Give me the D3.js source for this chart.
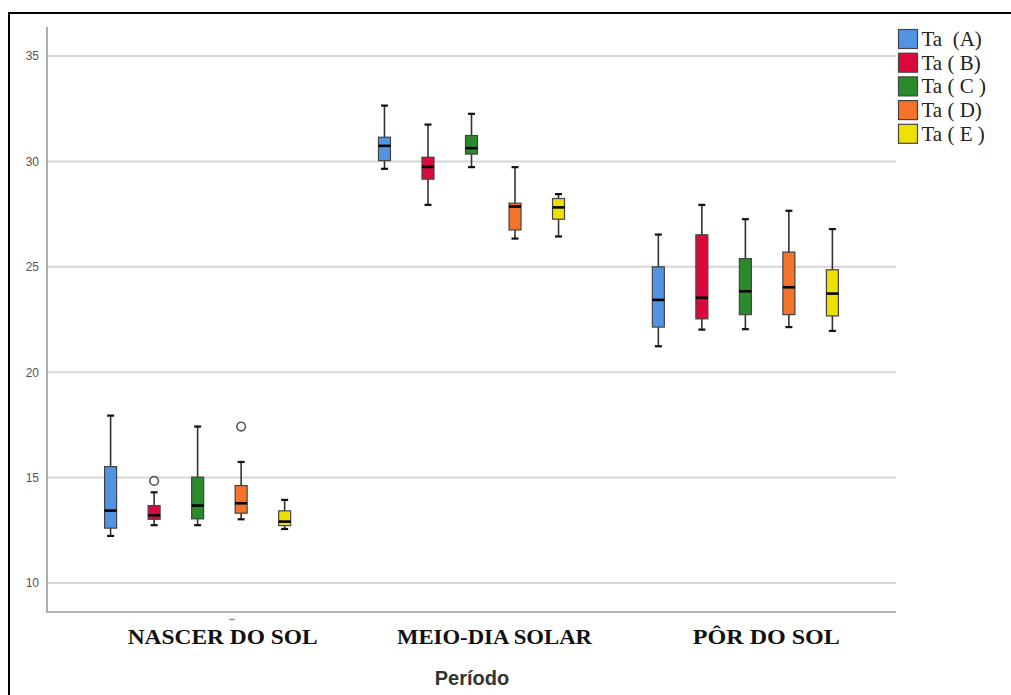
<!DOCTYPE html>
<html>
<head>
<meta charset="utf-8">
<script src="https://cdn.jsdelivr.net/npm/d3@7"></script>
<style>
  html, body { margin: 0; padding: 0; background: #fff; }
  svg { display: block; }
</style>
</head>
<body>
<svg id="chart" width="1011" height="695"></svg>
<script>
// Air temperature (Ta) by period of the day, five sampling points A–E
const periods = ["NASCER DO SOL", "MEIO-DIA SOLAR", "PÔR DO SOL"];
const series = ["Ta  (A)", "Ta ( B)", "Ta ( C )", "Ta ( D)", "Ta ( E )"];
const seriesColors = ["#5094e2", "#dc0a3c", "#2b8a2b", "#f5722a", "#eee000"];
const yTicks = [10, 15, 20, 25, 30, 35];

// five-number summaries per period: [lowWhisker, q1, median, q3, highWhisker]
const nascerStats = [
  [12.23, 12.60, 13.43, 15.52, 17.94],
  [12.74, 13.02, 13.21, 13.67, 14.30],
  [12.74, 13.04, 13.67, 15.02, 17.42],
  [13.02, 13.31, 13.78, 14.62, 15.74],
  [12.56, 12.72, 12.91, 13.42, 13.94]
];
const meioDiaStats = [
  [29.65, 30.04, 30.74, 31.15, 32.65],
  [27.94, 29.16, 29.74, 30.20, 31.75],
  [29.73, 30.35, 30.63, 31.23, 32.26],
  [26.34, 26.75, 27.86, 28.02, 29.73],
  [26.44, 27.26, 27.82, 28.24, 28.45]
];
const porStats = [
  [21.23, 22.14, 23.43, 25.00, 26.53],
  [22.02, 22.53, 23.53, 26.52, 27.94],
  [22.04, 22.73, 23.84, 25.39, 27.26],
  [22.14, 22.73, 24.03, 25.70, 27.66],
  [21.96, 22.67, 23.73, 24.86, 26.79]
];
// outliers: [period index, series index, value]
const outliers = [
  [0, 1, 14.84],
  [0, 3, 17.42]
];

const statsByPeriod = [nascerStats, meioDiaStats, porStats];

const svg = d3.select("#chart");

// outer frame
svg.append("path")
  .attr("d", "M9,695 L9,13 L1011,13")
  .attr("fill", "none").attr("stroke", "#000").attr("stroke-width", 2);

const plot = { left: 47, right: 896, top: 27, bottom: 612 };

const y = d3.scaleLinear().domain([8.62, 36.38]).range([plot.bottom, plot.top]);
const x = d3.scaleBand().domain(periods).range([plot.left, plot.right])
  .paddingInner(0).paddingOuter(0.05);
const xs = d3.scalePoint().domain(series).range([0, x.bandwidth()]).padding(1.147);

// grid lines
svg.append("g").selectAll("line").data(yTicks).join("line")
  .attr("x1", plot.left).attr("x2", plot.right)
  .attr("y1", d => y(d)).attr("y2", d => y(d))
  .attr("stroke", "#d6d6d6").attr("stroke-width", 2);

// y axis
const yAxis = svg.append("g").attr("transform", `translate(${plot.left},0)`)
  .call(d3.axisLeft(y).tickValues(yTicks).tickSize(0).tickPadding(8));
yAxis.select(".domain").remove();
yAxis.selectAll("text")
  .attr("font-family", "Liberation Sans, Arial, sans-serif")
  .attr("font-size", 12).attr("fill", "#555");

// axis lines
svg.append("path")
  .attr("d", `M${plot.left},${plot.top} L${plot.left},${plot.bottom} L${plot.right},${plot.bottom}`)
  .attr("fill", "none").attr("stroke", "#9a9a9a").attr("stroke-width", 1.6);

// x axis labels (set in a bold serif face, stretched to the period width)
const labelShift = [25, 23, 21];
const labelWidth = [190, 195, 147];
const xAxis = svg.append("g").attr("transform", `translate(0,${plot.bottom})`)
  .call(d3.axisBottom(x).tickSize(0).tickPadding(17));
xAxis.select(".domain").remove();
xAxis.selectAll("text")
  .attr("font-family", "Liberation Serif, Times New Roman, serif")
  .attr("font-weight", "bold").attr("font-size", 21).attr("fill", "#111")
  .attr("dx", (d, i) => labelShift[i])
  .attr("textLength", (d, i) => labelWidth[i])
  .attr("lengthAdjust", "spacingAndGlyphs");

// small mark under the axis
svg.append("line")
  .attr("x1", 229).attr("x2", 235).attr("y1", 619.5).attr("y2", 619.5)
  .attr("stroke", "#888").attr("stroke-width", 1.2);

// axis title
svg.append("text")
  .attr("x", 472).attr("y", 685).attr("text-anchor", "middle")
  .attr("font-family", "Liberation Sans, Arial, sans-serif")
  .attr("font-size", 20).attr("font-weight", "bold").attr("fill", "#333")
  .text("Período");

// boxes
const boxW = 12, capW = 7;
const boxData = [];
periods.forEach((p, pi) => {
  series.forEach((s, si) => {
    const [lo, q1, med, q3, hi] = statsByPeriod[pi][si];
    boxData.push({ p, s, si, lo, q1, med, q3, hi, cx: x(p) + xs(s) });
  });
});

const boxes = svg.append("g").selectAll("g").data(boxData).join("g");

boxes.append("line")
  .attr("x1", d => d.cx).attr("x2", d => d.cx)
  .attr("y1", d => y(d.hi)).attr("y2", d => y(d.lo))
  .attr("stroke", "#333").attr("stroke-width", 1.6);
boxes.append("line")
  .attr("x1", d => d.cx - capW / 2).attr("x2", d => d.cx + capW / 2)
  .attr("y1", d => y(d.hi)).attr("y2", d => y(d.hi))
  .attr("stroke", "#111").attr("stroke-width", 2.2);
boxes.append("line")
  .attr("x1", d => d.cx - capW / 2).attr("x2", d => d.cx + capW / 2)
  .attr("y1", d => y(d.lo)).attr("y2", d => y(d.lo))
  .attr("stroke", "#111").attr("stroke-width", 2.2);
boxes.append("rect")
  .attr("x", d => d.cx - boxW / 2).attr("width", boxW)
  .attr("y", d => y(d.q3)).attr("height", d => y(d.q1) - y(d.q3))
  .attr("fill", d => seriesColors[d.si])
  .attr("stroke", "#444").attr("stroke-width", 1.2);
boxes.append("line")
  .attr("x1", d => d.cx - boxW / 2).attr("x2", d => d.cx + boxW / 2)
  .attr("y1", d => y(d.med)).attr("y2", d => y(d.med))
  .attr("stroke", "#000").attr("stroke-width", 2.6);

// outliers
svg.append("g").selectAll("circle").data(outliers).join("circle")
  .attr("cx", d => x(periods[d[0]]) + xs(series[d[1]]))
  .attr("cy", d => y(d[2]))
  .attr("r", 4.3)
  .attr("fill", "#fff").attr("stroke", "#555").attr("stroke-width", 1.6);

// legend
const legend = svg.append("g").selectAll("g").data(series).join("g")
  .attr("transform", (d, i) => `translate(898.5,${29.5 + i * 23.7})`);
legend.append("rect")
  .attr("width", 19).attr("height", 19)
  .attr("fill", (d, i) => seriesColors[i])
  .attr("stroke", "#444").attr("stroke-width", 1.2);
legend.append("text")
  .attr("x", 23).attr("y", 16.5)
  .attr("font-family", "Liberation Serif, Times New Roman, serif")
  .attr("font-size", 21).attr("fill", "#222")
  .attr("xml:space", "preserve").style("white-space", "pre")
  .text(d => d);
</script>
</body>
</html>
